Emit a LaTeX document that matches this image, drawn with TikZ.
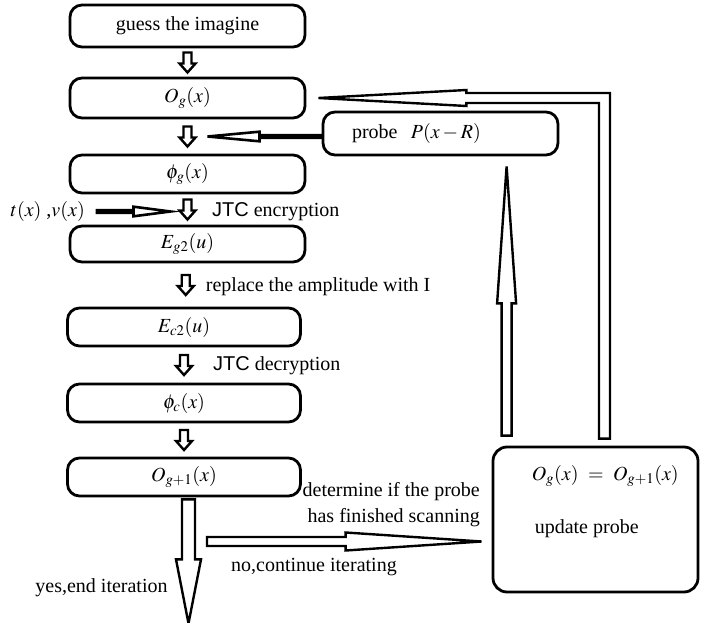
\documentclass[tikz,border=0pt]{standalone}
\usepackage{mathptmx}
\usepackage[no-math]{fontspec}
\setmainfont{Liberation Serif}
\setsansfont{Liberation Sans}
\usetikzlibrary{calc}
% hollow block arrow: [style]{start}{tip}{half shaft}{half head}{head length}
\newcommand\blockarr[6][arr]{%
  \coordinate (ba-h) at ($(#3)!#6!(#2)$);
  \draw[#1] ($(#2)!#4!90:(#3)$) -- ($(ba-h)!#4!90:(#3)$) -- ($(ba-h)!#5!90:(#3)$) -- (#3)
    -- ($(ba-h)!#5!-90:(#3)$) -- ($(ba-h)!#4!-90:(#3)$) -- ($(#2)!#4!-90:(#3)$) -- cycle;}
% small down arrow between two boxes, middle named #3
\newcommand\downarr[3]{%
  \coordinate (#3) at ($(#1.south)!0.5!(#2.north)$);
  \coordinate (#3-s) at ($(#3)+(0,-10)$);
  \coordinate (#3-t) at ($(#3)+(0,10)$);
  \blockarr{#3-s}{#3-t}{4pt}{8pt}{9pt}}
\begin{document}
\begin{tikzpicture}[x=1pt,y=-1pt,line join=miter,inner sep=1pt,
	font=\fontsize{20}{26}\selectfont,
	box/.style={draw,line width=2.8pt,rounded corners=12pt,minimum width=235pt,minimum height=38pt},
	arr/.style={draw,line width=2.4pt,fill=white},
	thinarr/.style={draw,line width=2.6pt,fill=white}]
	\useasboundingbox (0,0) rectangle (701,623);
	\node[box,minimum height=42pt] (b1) at (187.5,26) {guess the imagine};
	\node[box,minimum height=40pt] (b2) at (187.5,98) {$O_g(x)$};
	\node[box] (b3) at (187.5,174) {$\phi_g(x)$};
	\node[box,minimum height=36pt] (b4) at (187.5,244) {$E_{g2}(u)$};
	\node[box,minimum width=233pt] (b5) at (184,327) {$E_{c2}(u)$};
	\node[box,minimum width=233pt] (b6) at (184,403) {$\phi_c(x)$};
	\node[box,minimum width=233pt] (b7) at (184,477) {$O_{g+1}(x)$};
	\node[box,align=left,text width=177pt,inner xsep=29pt,minimum height=43pt] (probe) at (440.5,133.5) {probe~~$P(x-R)$};
	\node[draw,line width=2.8pt,rounded corners=14pt,minimum width=205pt,minimum height=145pt] (upd) at (595.5,519.5) {};
	\node[anchor=west] (eq) at ($(upd.north west)+(39,30)$) {$O_g(x)\ =\ O_{g+1}(x)$};
	\node[anchor=west] (up) at ($(upd.north west)+(42,83)$) {update probe};
	% arrows down the column
	\downarr{b1}{b2}{m1}
	\downarr{b2}{b3}{m2}
	\downarr{b3}{b4}{m3}
	\downarr{b4}{b5}{m4}
	\downarr{b5}{b6}{m5}
	\downarr{b6}{b7}{m6}
	\node[anchor=west] (enc) at ($(m3)+(23.5,2)$) {{\sffamily JTC} encryption};
	\node[anchor=west] (amp) at ($(m4)+(19,2)$) {replace the amplitude with I};
	\node[anchor=west] (dec) at ($(m5)+(28,1)$) {{\sffamily JTC} decryption};
	% inputs from the side
	\node[anchor=east] (tv) at (86,211.5) {$t(x)$ ,$v(x)$};
	\coordinate (ts) at ($(tv.east)+(11,0)$);
	\coordinate (tt) at ($(m3)+(-17,2)$);
	\blockarr[thinarr]{ts}{tt}{1.4pt}{4.8pt}{37pt}
	\coordinate (pa) at (probe.west |- m2);
	\coordinate (pt) at ($(m2)+(20,0)$);
	\blockarr[thinarr]{pa}{pt}{1.4pt}{4.8pt}{52pt}
	% end of iteration
	\coordinate (ys) at ($(b7.south)+(4.5,2)$);
	\coordinate (yt) at ($(ys)+(0,124)$);
	\blockarr{ys}{yt}{6.5pt}{12.5pt}{64pt}
	\node (yes) at (101.5,588) {yes,end iteration};
	% loop back
	\coordinate (ns) at (207,541.5);
	\coordinate (nt) at ($(upd.west)+(-10,22)$);
	\blockarr{ns}{nt}{4.5pt}{9pt}{136pt}
	\node[align=right,anchor=east] (det) at (481,505) {determine if the probe\\has finished scanning};
	\node (no) at (314,567) {no,continue iterating};
	\coordinate (us) at ($(upd.north west)+(15,-10)$);
	\coordinate (ut) at ($(us |- probe.south)+(0,10)$);
	\blockarr{us}{ut}{5pt}{9.5pt}{137pt}
	\coordinate (rt) at ($(b2.east)+(12,0)$);
	\coordinate (rb) at ($(upd.north)+(9,-7)$);
	\draw[arr] (rt) -- ($(rt)+(148,-8)$) -- ($(rt)+(148,-5)$) -| ($(rb)+(5.5,0)$)
		-- ($(rb)+(-5.5,0)$) |- ($(rt)+(148,5)$) -- ($(rt)+(148,8)$) -- cycle;
\end{tikzpicture}
\end{document}
